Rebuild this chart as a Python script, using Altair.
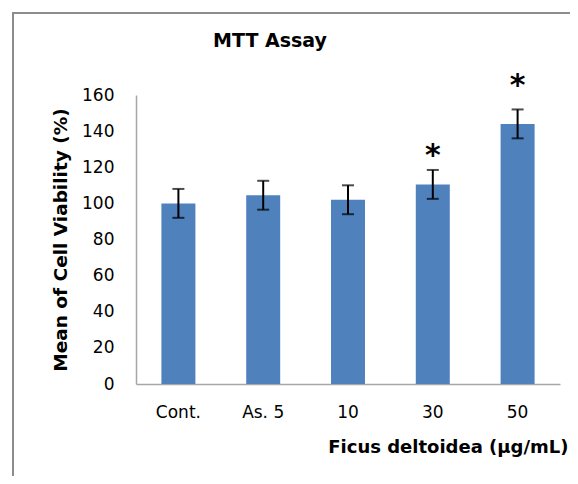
import altair as alt
import pandas as pd

categories = ["Cont.", "As. 5", "10", "30", "50"]
means = [100, 104.5, 102, 110.5, 144]
errors = [8, 8, 8, 8, 8]
star_flags = ["", "", "", "*", "*"]
star_values = [None, None, None, 126, 165]

df = pd.DataFrame({
    "cat": categories,
    "mean": means,
    "lo": [m - e for m, e in zip(means, errors)],
    "hi": [m + e for m, e in zip(means, errors)],
})
stars = pd.DataFrame({"cat": categories, "star": star_flags, "sy": star_values}).dropna()

FONT = "DejaVu Sans"
W, H = 424, 289
YTITLE = "Mean of Cell Viability (%)"
XTITLE = "Ficus deltoidea (μg/mL)"

x_axis = alt.Axis(title=XTITLE, labelAngle=0, ticks=False,
                  labelPadding=20, labelFontSize=17, labelColor="#000",
                  labelFont=FONT, titleFont=FONT, titleFontSize=18,
                  titleFontWeight="bold", titleColor="#000",
                  titleX=W + 8, titleY=68, titleAlign="right",
                  titleBaseline="alphabetic",
                  domainColor="#a6a6a6", domainWidth=1.5)
y_axis = alt.Axis(title=YTITLE, values=list(range(0, 161, 20)),
                  labelOverlap=False,
                  ticks=False, grid=False, labelPadding=22, labelFontSize=17,
                  labelColor="#000", labelFont=FONT, titleFont=FONT,
                  titleFontSize=18.5, titleFontWeight="bold", titleColor="#000",
                  titlePadding=11, domainColor="#a6a6a6", domainWidth=1.5)
x_scale = alt.Scale(paddingInner=0.6, paddingOuter=0.3)
y_scale = alt.Scale(domain=[0, 160], nice=False)

def X():
    return alt.X("cat:N", sort=categories, scale=x_scale, axis=x_axis)

bars = alt.Chart(df).mark_bar(color="#4F81BD", size=34).encode(
    x=X(),
    y=alt.Y("mean:Q", scale=y_scale, axis=y_axis),
)

err = alt.Chart(df).mark_errorbar(ticks=alt.MarkConfig(size=12, color="#000", strokeWidth=2),
                                  color="#000", thickness=2).encode(
    x=X(),
    y=alt.Y("lo:Q", scale=y_scale, axis=y_axis),
    y2="hi:Q",
)

star_text = alt.Chart(stars).mark_text(font=FONT, fontSize=30, fontWeight="bold",
                                       color="#000", baseline="middle").encode(
    x=X(),
    y=alt.Y("sy:Q", scale=y_scale, axis=y_axis),
    text="star:N",
)

title_df = pd.DataFrame({"t": ["MTT Assay"]})
title = alt.Chart(title_df).mark_text(font=FONT, fontSize=19, fontWeight="bold",
                                      color="#000", baseline="alphabetic", align="center").encode(
    x=alt.value(134), y=alt.value(-48), text="t:N")

frame = alt.Chart(title_df).mark_rect(fill="transparent", stroke="#8c8c8c", strokeWidth=2).encode(
    x=alt.value(-123), x2=alt.value(520), y=alt.value(-82), y2=alt.value(420))

chart = alt.layer(frame, bars, err, star_text, title).properties(
    width=W, height=H,
    background="white",
    autosize=alt.AutoSizeParams(type="none"),
    padding={"left": 128, "top": 87, "right": 10, "bottom": 92},
).configure_view(strokeWidth=0, stroke="transparent")

chart.save("out.html", embed_options={"renderer": "svg", "actions": False})
